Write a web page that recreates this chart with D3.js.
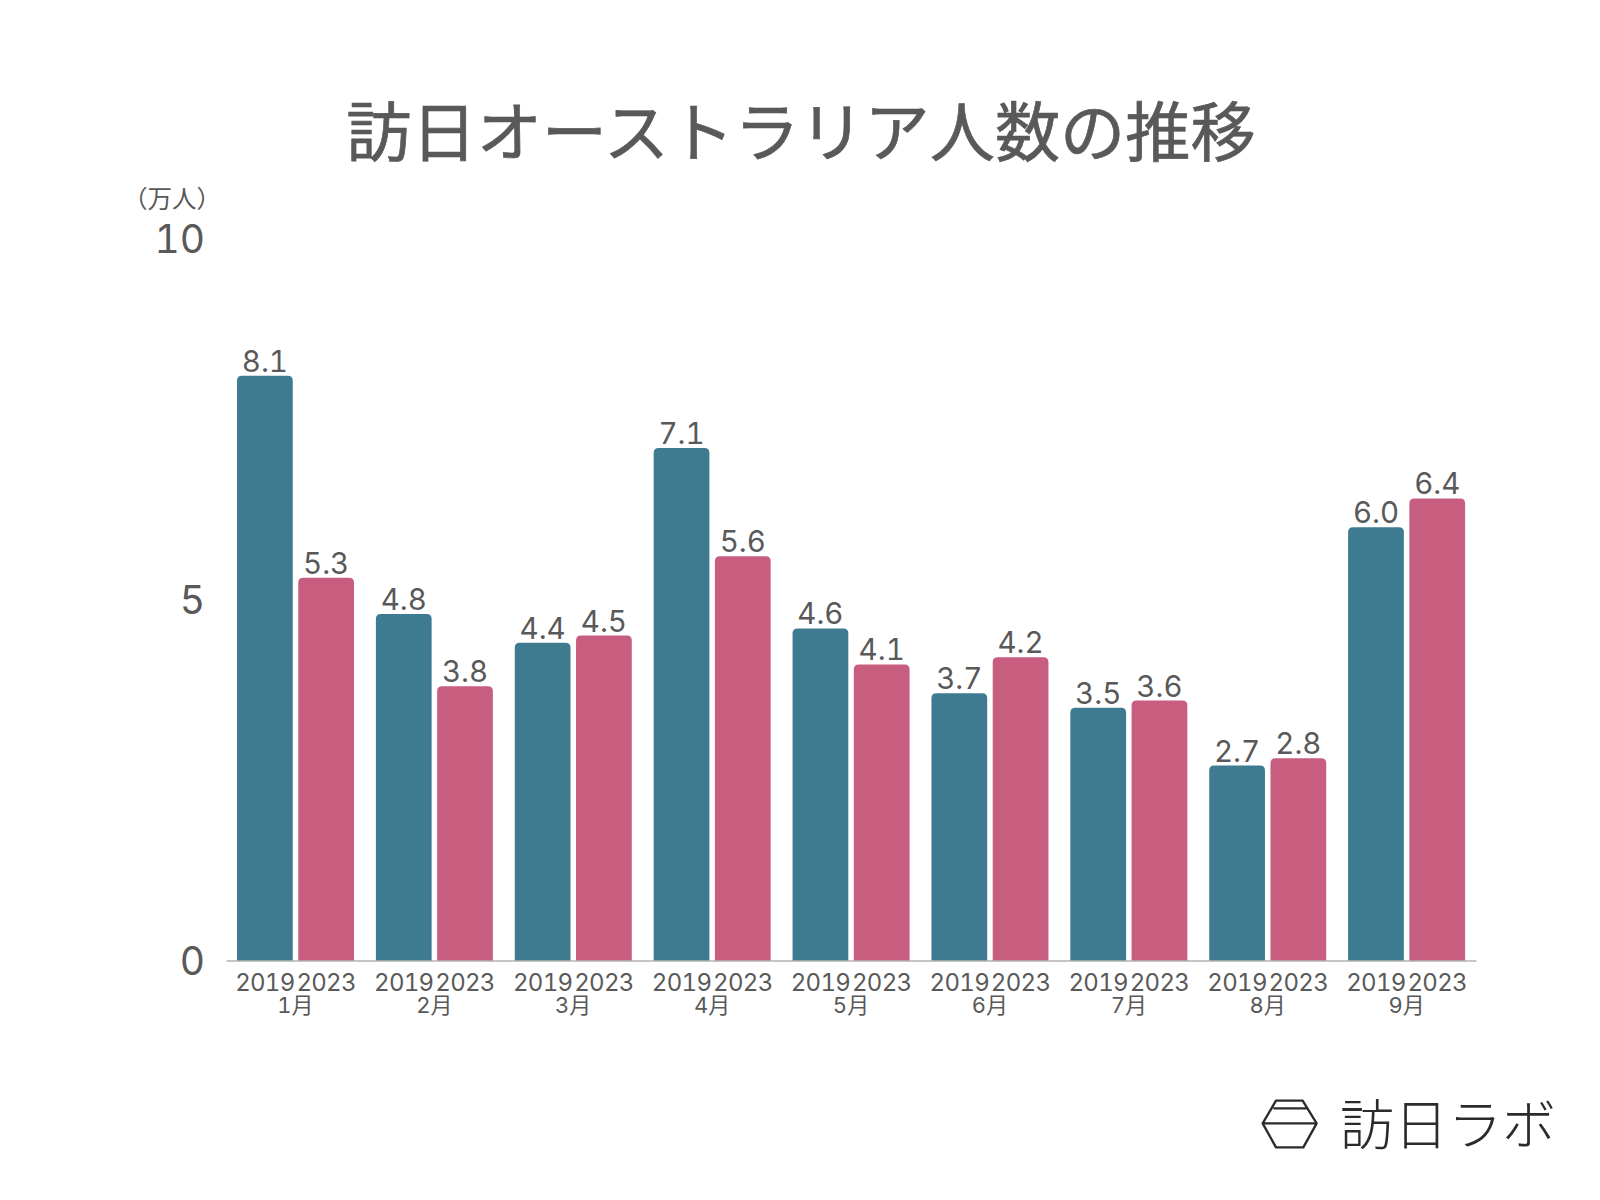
<!DOCTYPE html>
<html lang="ja">
<head>
<meta charset="utf-8">
<script src="https://cdn.jsdelivr.net/npm/d3@7"></script>
<style>
html,body{margin:0;padding:0;background:#fff}
svg{display:block}
text{font-family:"Inter","Noto Sans CJK JP",sans-serif;fill:#595959;font-feature-settings:"tnum" 1}
.jp{font-family:"Noto Sans CJK JP",sans-serif}
</style>
</head>
<body>
<svg id="c" width="1600" height="1200"></svg>
<script>
const months = ["1月","2月","3月","4月","5月","6月","7月","8月","9月"];
const years = ["2019","2023"];
const values2019 = [8.1,4.8,4.4,7.1,4.6,3.7,3.5,2.7,6.0];
const values2023 = [5.3,3.8,4.5,5.6,4.1,4.2,3.6,2.8,6.4];
const yTicks = [0,5,10];
const title = "訪日オーストラリア人数の推移";
const unit = "（万人）";
const brand = "訪日ラボ";
const colors = ["#3f7b90","#c75d7f"];

const svg = d3.select("#c");
const x0 = d3.scaleBand().domain(months).range([226,1476]);
const x1 = d3.scaleBand().domain(years).range([11,128]).paddingInner(0.09);
const y = d3.scaleLinear().domain([0,10]).range([960.5,238.5]);

svg.append("text").attr("class","jp").attr("x",801).attr("y",155.5)
  .attr("text-anchor","middle").attr("font-size",65.2).attr("font-weight",400)
  .style("stroke","#595959").style("stroke-width",0.7).text(title);
svg.append("text").attr("class","jp").attr("x",172).attr("y",208)
  .attr("text-anchor","middle").attr("font-size",24.5).text(unit);

const yAxis = svg.append("g").attr("transform","translate(209,0)")
  .call(d3.axisLeft(y).tickValues(yTicks).tickSize(0).tickPadding(4).tickFormat(d3.format("d")));
yAxis.select(".domain").remove();
yAxis.selectAll("text").attr("font-size",39).attr("font-weight",400).attr("font-family","Inter").attr("dy","0.36em").style("fill","#595959");

function topRounded(xp,yp,w,h,r){
  return `M${xp},${yp+h}V${yp+r}Q${xp},${yp} ${xp+r},${yp}H${xp+w-r}Q${xp+w},${yp} ${xp+w},${yp+r}V${yp+h}Z`;
}
const rows = months.map((m,i)=>({m,vals:[values2019[i],values2023[i]]}));
const groups = svg.selectAll("g.grp").data(rows).join("g").attr("class","grp")
  .attr("transform",d=>`translate(${x0(d.m)},0)`);
const cells = groups.selectAll("g.cell").data(d=>d.vals.map((v,i)=>({v,i,yr:years[i]}))).join("g").attr("class","cell");
cells.append("path")
  .attr("d",d=>topRounded(x1(d.yr),y(d.v),x1.bandwidth(),y(0)-y(d.v),5))
  .attr("fill",d=>colors[d.i]);
cells.append("text")
  .attr("x",d=>x1(d.yr)+x1.bandwidth()/2).attr("y",d=>y(d.v)-4)
  .attr("text-anchor","middle").attr("font-size",29.5).attr("font-weight",400).text(d=>d.v.toFixed(1));
cells.append("text")
  .attr("x",d=>x1(d.yr)+x1.bandwidth()/2).attr("y",990.5)
  .attr("text-anchor","middle").attr("font-size",24).attr("font-weight",400).attr("letter-spacing",-0.7).text(d=>d.yr);

const xAxis = svg.append("g").attr("transform",`translate(0,${y(0)})`)
  .call(d3.axisBottom(x0).tickSize(0).tickPadding(37));
xAxis.select(".domain").attr("stroke","#8c8c8c").attr("stroke-width",1.2);
xAxis.selectAll("text").attr("font-size",22).attr("font-weight",400).attr("font-family","Inter, 'Noto Sans CJK JP'").style("fill","#595959");

const logo = svg.append("g").attr("transform","translate(1240,1070) scale(0.3333)")
  .attr("fill","none").attr("stroke","#2b2b2b").attr("stroke-width",7).attr("stroke-linejoin","round");
logo.append("path").attr("d","M68,160L108,232H190L230,160L188,92H108ZM68,160H230M100,115H200");
svg.append("text").attr("class","jp").attr("x",1340).attr("y",1145)
  .attr("font-size",54).attr("font-weight",300)
  .style("fill","#2b2b2b").text(brand);
</script>
</body>
</html>
